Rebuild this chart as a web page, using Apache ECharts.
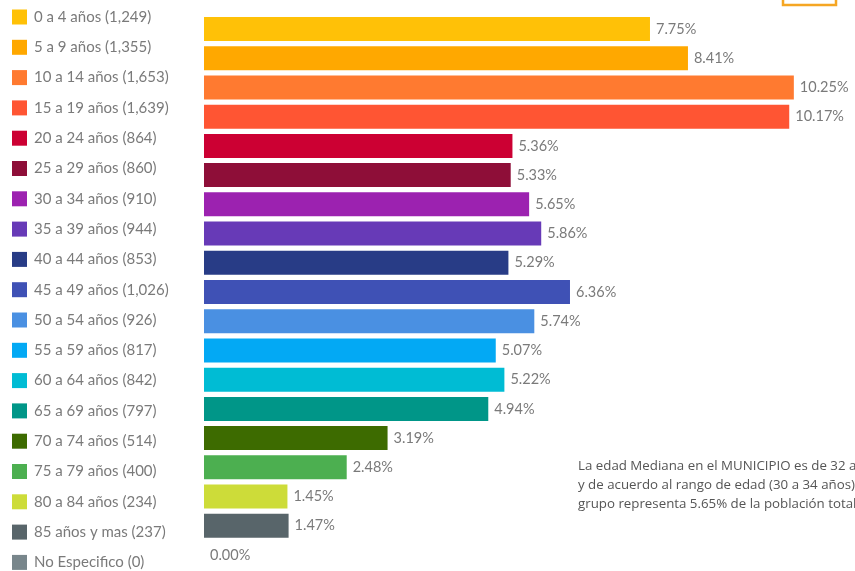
<!DOCTYPE html>
<html>
<head>
<meta charset="utf-8">
<script src="https://cdn.jsdelivr.net/npm/echarts@6/dist/echarts.min.js"></script>
<style>
html,body{margin:0;padding:0;background:#fff;}
#chart{width:855px;height:571px;}
</style>
</head>
<body>
<div id="chart"></div>
<script>
const categories = ['0 a 4 años','5 a 9 años','10 a 14 años','15 a 19 años','20 a 24 años','25 a 29 años','30 a 34 años','35 a 39 años','40 a 44 años','45 a 49 años','50 a 54 años','55 a 59 años','60 a 64 años','65 a 69 años','70 a 74 años','75 a 79 años','80 a 84 años','85 años y mas','No Especifico'];
const counts = ['1,249','1,355','1,653','1,639','864','860','910','944','853','1,026','926','817','842','797','514','400','234','237','0'];
const percents = [7.75,8.41,10.25,10.17,5.36,5.33,5.65,5.86,5.29,6.36,5.74,5.07,5.22,4.94,3.19,2.48,1.45,1.47,0.00];
const colors = ['#FFC107','#FFA800','#FF7A30','#FF5533','#CC0033','#8E0E38','#9C22B0','#673AB7','#283C86','#3F51B5','#4A90E2','#03A9F4','#00BCD4','#009688','#3D6B00','#4CAF50','#CDDC39','#58656A','#78868B'];
const noteLines = ['La edad Mediana en el MUNICIPIO es de 32 años','y de acuerdo al rango de edad (30 a 34 años) este','grupo representa 5.65% de la población total.'];

const chart = echarts.init(document.getElementById('chart'));
const series = categories.map((c, i) => ({
  name: c + ' (' + counts[i] + ')',
  type: 'bar',
  barWidth: 24,
  barGap: '-100%',
  itemStyle: { color: colors[i] },
  label: {
    show: true, position: 'right', distance: 6,
    color: '#7a7a7a', fontFamily: 'Lato', fontSize: 14.5,
    formatter: p => p.value.toFixed(2) + '%'
  },
  data: categories.map((_, j) => j === i ? percents[i] : '-')
}));

chart.setOption({
  animation: false,
  backgroundColor: '#fff',
  legend: {
    orient: 'vertical', left: 7, top: 4.5, height: 700,
    itemWidth: 15, itemHeight: 15, itemGap: 15.3,
    icon: 'rect',
    textStyle: { color: '#7a7a7a', fontFamily: 'Lato', fontSize: 15, padding: [0,0,0,2] },
    selectedMode: false
  },
  grid: { left: 204, right: 18, top: 14.4, bottom: 1.4 },
  xAxis: { type: 'value', min: 0, max: 11, show: false, splitLine: { show: false } },
  yAxis: { type: 'category', data: categories, inverse: true, show: false },
  series: series,
  graphic: [
    { type: 'rect', shape: { x: 783, y: -20, width: 53, height: 25 }, style: { fill: '#fff', stroke: '#F5A623', lineWidth: 2.5 } },
    ...noteLines.map((t, i) => ({
      type: 'text', left: 578, top: 460 + i * 19,
      style: { text: t, fill: '#555', fontFamily: 'Open Sans', fontSize: 13.3 }
    }))
  ]
});
</script>
</body>
</html>
